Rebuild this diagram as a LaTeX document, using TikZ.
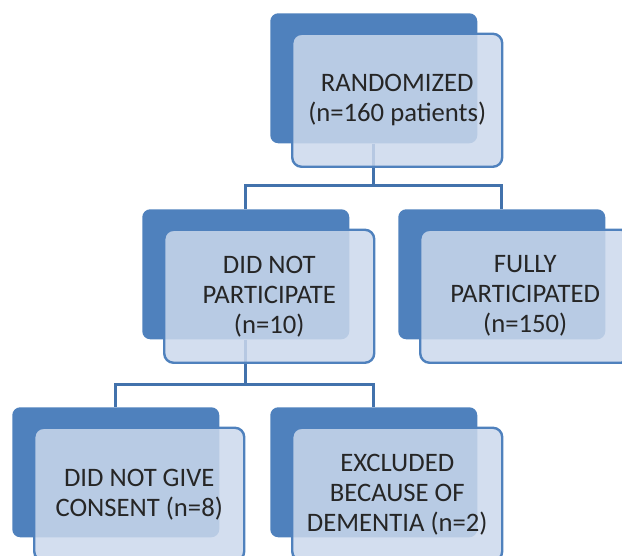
\documentclass[tikz,border=0pt]{standalone}
\usepackage{fontspec}
\setmainfont{Carlito}
\usetikzlibrary{calc,positioning}
\definecolor{darkblue}{RGB}{79,129,189}
\definecolor{paleblue}{RGB}{203,216,236}
\definecolor{lineblue}{RGB}{66,114,172}

\begin{document}
\begin{tikzpicture}[x=0.75pt, y=-0.75pt,
  back/.style={fill=darkblue, rounded corners=6pt, minimum width=155.25pt, minimum height=97.5pt, inner sep=0pt, anchor=north west},
  front/.style={draw=darkblue, line width=1.8pt, fill=paleblue, fill opacity=0.85, text opacity=1,
    rounded corners=7pt, minimum width=157.5pt, minimum height=99.75pt, align=center,
    text=black!85, font=\fontsize{20}{22.5}\selectfont, xshift=17.6pt, yshift=-16.5pt},
  conn/.style={draw=lineblue, line width=2.4pt}]
  \useasboundingbox (0,0) rectangle (622,556);
  \clip (0,0) rectangle (622,556);
  % back boxes
  \node[back] (randB) at (270,13) {};
  \node[back] (dnpB) at (142,209) {};
  \node[back] (fullB) at (398,209) {};
  \node[back] (consB) at (12,407) {};
  \node[back] (demB) at (270,407) {};
  % connectors
  \coordinate[below=31.5pt of randB.south] (splitA);
  \draw[conn] (randB.south) -- (splitA) -| (dnpB.north);
  \draw[conn] (splitA) -| (fullB.north);
  \coordinate[below=34pt of dnpB.south] (splitB);
  \draw[conn] (dnpB.south) -- (splitB) -| (consB.north);
  \draw[conn] (splitB) -| (demB.north);
  % front boxes
  \node[front] (randF) at (randB.center) {RANDOMIZED\\(n=160 patients)};
  \node[front] (dnpF) at (dnpB.center) {DID NOT\\PARTICIPATE\\(n=10)};
  \node[front] (fullF) at (fullB.center) {FULLY\\PARTICIPATED\\(n=150)};
  \node[front] (consF) at (consB.center) {DID NOT GIVE\\CONSENT (n=8)};
  \node[front] (demF) at (demB.center) {EXCLUDED\\BECAUSE OF\\DEMENTIA (n=2)};
\end{tikzpicture}
\end{document}
